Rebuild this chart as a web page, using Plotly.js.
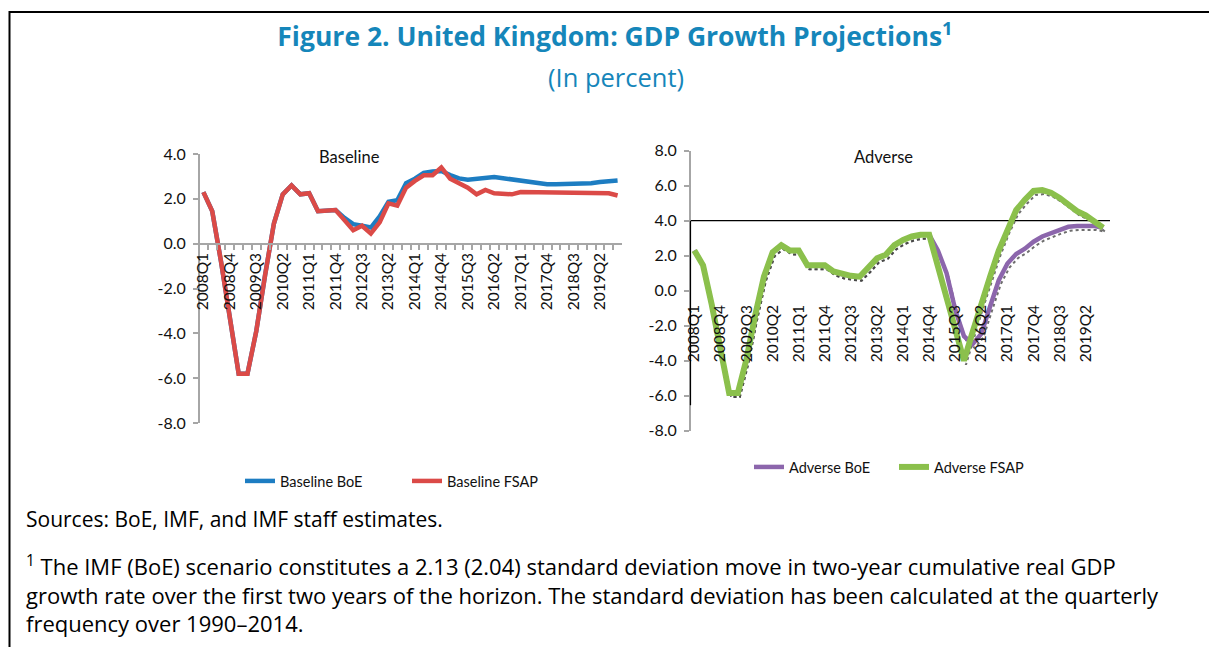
<!DOCTYPE html>
<html>
<head>
<meta charset="utf-8">
<script src="https://cdn.plot.ly/plotly-3.0.1.min.js"></script>
<style>
html,body{margin:0;padding:0;background:#fff;}
#chart{width:1209px;height:647px;}
</style>
</head>
<body>
<div id="chart"></div>
<script>
// ---------- data ----------
const quarters = [
  '2008Q1','2008Q2','2008Q3','2008Q4','2009Q1','2009Q2','2009Q3','2009Q4',
  '2010Q1','2010Q2','2010Q3','2010Q4','2011Q1','2011Q2','2011Q3','2011Q4',
  '2012Q1','2012Q2','2012Q3','2012Q4','2013Q1','2013Q2','2013Q3','2013Q4',
  '2014Q1','2014Q2','2014Q3','2014Q4','2015Q1','2015Q2','2015Q3','2015Q4',
  '2016Q1','2016Q2','2016Q3','2016Q4','2017Q1','2017Q2','2017Q3','2017Q4',
  '2018Q1','2018Q2','2018Q3','2018Q4','2019Q1','2019Q2','2019Q3','2019Q4'
];
const tickLabels = ['2008Q1','2008Q4','2009Q3','2010Q2','2011Q1','2011Q4','2012Q3','2013Q2',
  '2014Q1','2014Q4','2015Q3','2016Q2','2017Q1','2017Q4','2018Q3','2019Q2'];

const baselineBoE = [
  2.3, 1.45, -0.8, -3.4, -5.8, -5.8, -3.9, -1.4,
  0.9, 2.2, 2.6, 2.2, 2.25, 1.45, 1.5, 1.5,
  1.15, 0.87, 0.8, 0.72, 1.22, 1.87, 1.94, 2.7,
  2.9, 3.16, 3.22, 3.24, 3.06, 2.91, 2.85, 2.88,
  2.95, 2.97, 2.92, 2.87, 2.81, 2.75, 2.69, 2.65,
  2.65, 2.65, 2.65, 2.65, 2.7, 2.75, 2.77, 2.82
];
const baselineFSAP = [
  2.3, 1.45, -0.8, -3.4, -5.8, -5.8, -3.9, -1.4,
  0.9, 2.2, 2.6, 2.2, 2.25, 1.45, 1.5, 1.5,
  1.05, 0.6, 0.8, 0.45, 0.95, 1.8, 1.7, 2.5,
  2.8, 3.05, 3.05, 3.4, 2.9, 2.7, 2.5, 2.2,
  2.4, 2.25, 2.2, 2.2, 2.3, 2.3, 2.3, 2.3,
  2.3, 2.3, 2.3, 2.3, 2.25, 2.25, 2.25, 2.15
];
const adverseBoE = [
  2.3, 1.45, -0.8, -3.4, -5.85, -5.85, -3.9, -1.4,
  0.8, 2.2, 2.6, 2.3, 2.3, 1.45, 1.45, 1.45,
  1.1, 0.93, 0.85, 0.8, 1.3, 1.85, 2.05, 2.6,
  2.9, 3.1, 3.2, 3.2, 2.3, 1.0, -1.1, -2.6,
  -3.05, -2.45, -0.9, 0.6, 1.55, 2.1, 2.4, 2.8,
  3.1, 3.3, 3.5, 3.65, 3.7, 3.7, 3.7, 3.6
];
const adverseFSAP = [
  2.3, 1.45, -0.8, -3.4, -5.85, -5.85, -3.9, -1.4,
  0.8, 2.2, 2.6, 2.3, 2.3, 1.45, 1.45, 1.45,
  1.1, 0.93, 0.85, 0.8, 1.3, 1.85, 2.05, 2.6,
  2.9, 3.1, 3.2, 3.2, 1.4, -0.45, -2.25, -4.0,
  -2.35, -0.7, 0.8, 2.3, 3.55, 4.6, 5.2, 5.7,
  5.75, 5.6, 5.3, 4.9, 4.55, 4.3, 4.0, 3.6
];
const leftYTicks = [-8, -6, -4, -2, 0, 2, 4];
const rightYTicks = [-8, -6, -4, -2, 0, 2, 4, 6, 8];

// ---------- helpers (pixel -> paper) ----------
const W = 1209, H = 647;
const px = x => x / W;
const py = y => 1 - y / H;

const GREY = '#A6A6A6';
const TEAL = '#1586BA';
const CH_FONT = 'Lato, "Open Sans", sans-serif';
const TX_FONT = '"Open Sans", "Noto Sans", sans-serif';

const traces = [
  {x: quarters, y: baselineBoE, type: 'scatter', mode: 'lines', name: 'Baseline BoE',
   line: {color: '#1D7DC2', width: 4.5}, xaxis: 'x', yaxis: 'y', legend: 'legend'},
  {x: quarters, y: baselineFSAP, type: 'scatter', mode: 'lines', name: 'Baseline FSAP',
   line: {color: '#DB4A47', width: 4.5}, xaxis: 'x', yaxis: 'y', legend: 'legend'},
  // dotted shadow of adverse lines
  {x: quarters, y: adverseBoE, type: 'scatter', mode: 'lines', showlegend: false, hoverinfo: 'skip',
   line: {color: 'rgba(60,60,60,0.75)', width: 2, dash: 'dot'}, xaxis: 'x2', yaxis: 'y2'},
  {x: quarters, y: adverseFSAP, type: 'scatter', mode: 'lines', showlegend: false, hoverinfo: 'skip',
   line: {color: 'rgba(60,60,60,0.75)', width: 2, dash: 'dot'}, xaxis: 'x2', yaxis: 'y2'},
  {x: quarters, y: adverseBoE, type: 'scatter', mode: 'lines', name: 'Adverse BoE',
   line: {color: '#8C66AC', width: 4.5}, xaxis: 'x3', yaxis: 'y3', legend: 'legend2'},
  {x: quarters, y: adverseFSAP, type: 'scatter', mode: 'lines', name: 'Adverse FSAP',
   line: {color: '#8BC04C', width: 6}, xaxis: 'x3', yaxis: 'y3', legend: 'legend2'}
];

const leftTickText = quarters.map(q => tickLabels.indexOf(q) >= 0 ? q : '');

const layout = {
  width: W, height: H,
  margin: {l: 0, r: 0, t: 0, b: 0},
  paper_bgcolor: '#fff', plot_bgcolor: 'rgba(0,0,0,0)',
  showlegend: true,
  title: {
    text: '<b>Figure 2. United Kingdom: GDP Growth Projections<sup style="font-size:55%">1</sup></b>',
    x: px(615), xanchor: 'center', xref: 'paper',
    y: py(37), yanchor: 'middle', yref: 'paper',
    font: {family: TX_FONT, size: 26.5, color: TEAL}
  },
  // ----- left chart -----
  xaxis: {
    type: 'category', domain: [px(199), px(622)], range: [-0.5, 47.5],
    anchor: 'free', position: py(243.7),
    showline: true, linecolor: GREY, linewidth: 2,
    ticks: 'outside', ticklen: 5, tickwidth: 2, tickcolor: GREY, tickson: 'boundaries',
    tickmode: 'array', tickvals: quarters, ticktext: leftTickText,
    tickangle: -90, tickfont: {family: CH_FONT, size: 15.5, color: '#111'},
    ticklabelstandoff: 2,
    showgrid: false, zeroline: false, fixedrange: true
  },
  yaxis: {
    domain: [py(423), py(154)], range: [-8, 4],
    anchor: 'free', position: px(199),
    showline: true, linecolor: GREY, linewidth: 2,
    ticks: 'outside', ticklen: 5, tickwidth: 2, tickcolor: GREY,
    tickmode: 'array', tickvals: leftYTicks, ticktext: leftYTicks.map(v => v.toFixed(1)),
    tickfont: {family: CH_FONT, size: 16, color: '#111'}, ticklabelstandoff: 4,
    showgrid: false, zeroline: false, fixedrange: true
  },
  // ----- shadow axes (hidden) -----
  xaxis2: {
    type: 'category', domain: [px(692), px(1109.5)], range: [-0.5, 47.5],
    anchor: 'y2', visible: false, fixedrange: true
  },
  yaxis2: {
    domain: [py(434.7), py(154.7)], range: [-8, 8],
    anchor: 'x2', visible: false, fixedrange: true
  },
  // ----- right chart -----
  xaxis3: {
    type: 'category', domain: [px(690), px(1107.5)], range: [-0.5, 47.5],
    anchor: 'free', position: py(290.7),
    showline: false, ticks: 'outside', ticklen: 5, tickcolor: 'rgba(0,0,0,0)',
    tickmode: 'array', tickvals: tickLabels, ticktext: tickLabels,
    tickangle: -90, tickfont: {family: CH_FONT, size: 15.5, color: '#111'},
    ticklabelstandoff: 2,
    showgrid: false, zeroline: false, fixedrange: true
  },
  yaxis3: {
    domain: [py(430.7), py(150.7)], range: [-8, 8],
    anchor: 'free', position: px(690),
    showline: true, linecolor: GREY, linewidth: 2,
    ticks: 'outside', ticklen: 5, tickwidth: 2, tickcolor: GREY,
    tickmode: 'array', tickvals: rightYTicks, ticktext: rightYTicks.map(v => v.toFixed(1)),
    tickfont: {family: CH_FONT, size: 16, color: '#111'}, ticklabelstandoff: 4,
    showgrid: false, zeroline: false, fixedrange: true
  },
  legend: {
    orientation: 'h', x: px(240), xanchor: 'left', y: py(481), yanchor: 'middle',
    font: {family: CH_FONT, size: 14.5, color: '#111'},
    entrywidth: 122, entrywidthmode: 'pixels', bgcolor: 'rgba(0,0,0,0)', traceorder: 'normal'
  },
  legend2: {
    orientation: 'h', x: px(749), xanchor: 'left', y: py(467), yanchor: 'middle',
    font: {family: CH_FONT, size: 14.5, color: '#111'},
    entrywidth: 100, entrywidthmode: 'pixels', bgcolor: 'rgba(0,0,0,0)', traceorder: 'normal'
  },
  shapes: [
    // frame
    {type: 'line', xref: 'paper', yref: 'paper', x0: px(9), x1: 1, y0: py(12), y1: py(12),
     line: {color: '#000', width: 2}},
    {type: 'line', xref: 'paper', yref: 'paper', x0: px(9.5), x1: px(9.5), y0: py(11), y1: 0,
     line: {color: '#000', width: 2}},
    // black lines in adverse chart
    {type: 'line', xref: 'paper', yref: 'y3', x0: px(690), x1: px(1110), y0: 4, y1: 4,
     line: {color: '#000', width: 1.2}, layer: 'below'},
    {type: 'line', xref: 'paper', yref: 'y3', x0: px(690.5), x1: px(690.5), y0: 4, y1: -6.55,
     line: {color: '#000', width: 1.2}, layer: 'above'}
  ],
  annotations: [
    {text: '(In percent)', xref: 'paper', yref: 'paper', x: px(616), y: py(77),
     xanchor: 'center', yanchor: 'middle', showarrow: false,
     font: {family: TX_FONT, size: 25.5, color: TEAL}},
    {text: 'Baseline', xref: 'paper', yref: 'paper', x: px(349), y: py(157),
     xanchor: 'center', yanchor: 'middle', showarrow: false,
     font: {family: CH_FONT, size: 16.5, color: '#111'}},
    {text: 'Adverse', xref: 'paper', yref: 'paper', x: px(883), y: py(157),
     xanchor: 'center', yanchor: 'middle', showarrow: false,
     font: {family: CH_FONT, size: 16.5, color: '#111'}},
    {text: 'Sources: BoE, IMF, and IMF staff estimates.', xref: 'paper', yref: 'paper',
     x: px(24), y: py(519), xanchor: 'left', yanchor: 'middle', showarrow: false,
     font: {family: TX_FONT, size: 21, color: '#000'}},
    {text: '<sup>1</sup> The IMF (BoE) scenario constitutes a 2.13 (2.04) standard deviation move in two-year cumulative real GDP' +
           '<br>growth rate over the first two years of the horizon. The standard deviation has been calculated at the quarterly' +
           '<br>frequency over 1990–2014.',
     xref: 'paper', yref: 'paper', x: px(24), y: py(594), xanchor: 'left', yanchor: 'middle', align: 'left',
     showarrow: false,
     font: {family: TX_FONT, size: 22, color: '#000'}}
  ]
};

Plotly.newPlot('chart', traces, layout, {displayModeBar: false, staticPlot: true});
</script>
</body>
</html>
